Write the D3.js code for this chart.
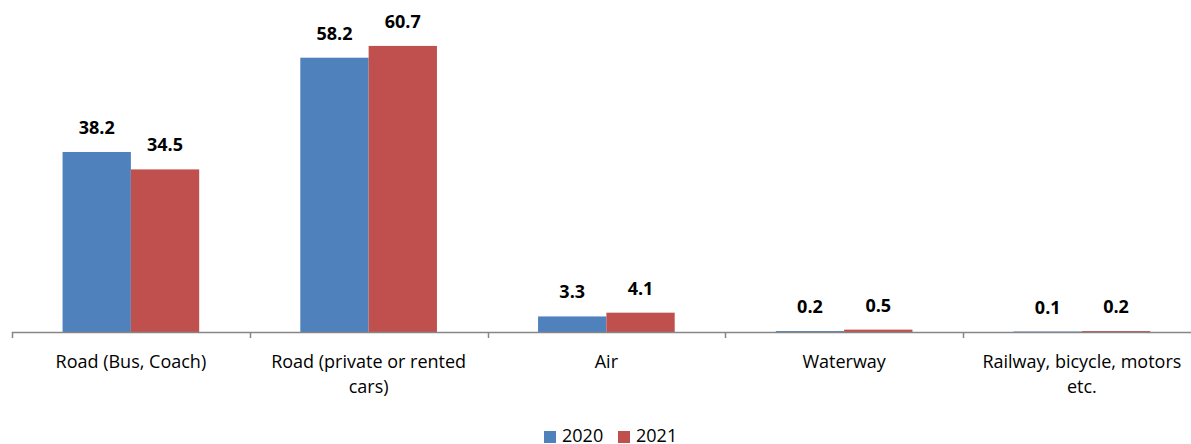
<!DOCTYPE html>
<html>
<head>
<meta charset="utf-8">
<script src="https://cdn.jsdelivr.net/npm/d3@7"></script>
<style>
  body { margin: 0; background: #fff; }
  text { font-family: "Open Sans", Carlito, Calibri, sans-serif; }
</style>
</head>
<body>
<svg id="chart" width="1191" height="444"></svg>
<script>
const categories = [
  ['Road (Bus, Coach)'],
  ['Road (private or rented', 'cars)'],
  ['Air'],
  ['Waterway'],
  ['Railway, bicycle, motors', 'etc.']
];
const years = ['2020', '2021'];
const values2020 = [38.2, 58.2, 3.3, 0.2, 0.1];
const values2021 = [34.5, 60.7, 4.1, 0.5, 0.2];
const colors = ['#4F81BD', '#C0504D'];

const svg = d3.select('#chart');
const baseY = 332;
const left = 12;
const step = 237.75;

// Category band scale
const x = d3.scaleBand()
  .domain(d3.range(categories.length))
  .range([left, left + step * categories.length])
  .paddingInner(0)
  .paddingOuter(0);

const xInner = d3.scaleBand()
  .domain(years)
  .range([0, x.bandwidth()])
  .paddingOuter(0.74)
  .paddingInner(0);

const y = d3.scaleLinear()
  .domain([0, 70])
  .range([baseY, baseY - 70 * 4.713]);

const series = [values2020, values2021];

// Bars
years.forEach((yr, s) => {
  svg.append('g').selectAll('rect')
    .data(series[s])
    .enter()
    .append('rect')
    .attr('x', (d, i) => x(i) + xInner(yr))
    .attr('y', d => y(d))
    .attr('width', xInner.bandwidth())
    .attr('height', d => baseY - y(d))
    .attr('fill', colors[s]);

  svg.append('g').selectAll('text')
    .data(series[s])
    .enter()
    .append('text')
    .attr('x', (d, i) => x(i) + xInner(yr) + xInner.bandwidth() / 2)
    .attr('y', d => y(d) - 18)
    .attr('text-anchor', 'middle')
    .attr('font-size', 18)
    .attr('font-weight', 'bold')
    .attr('fill', '#000')
    .text(d => d.toFixed(1));
});

// Axis line and ticks
const axis = svg.append('g');
axis.append('line')
  .attr('x1', left).attr('x2', left + step * categories.length)
  .attr('y1', baseY + 0.5).attr('y2', baseY + 0.5)
  .attr('stroke', '#868686').attr('stroke-width', 1.5);

axis.selectAll('.tick')
  .data(d3.range(categories.length + 1))
  .enter()
  .append('line')
  .attr('x1', i => Math.round(left + step * i) + 0.5)
  .attr('x2', i => Math.round(left + step * i) + 0.5)
  .attr('y1', baseY)
  .attr('y2', baseY + 6)
  .attr('stroke', '#868686').attr('stroke-width', 1.5);

// Category labels
const labels = axis.selectAll('.cat')
  .data(categories)
  .enter()
  .append('text')
  .attr('text-anchor', 'middle')
  .attr('font-size', 18)
  .attr('fill', '#000');

labels.each(function(lines, i) {
  const t = d3.select(this);
  lines.forEach((ln, j) => {
    t.append('tspan')
      .attr('x', x(i) + x.bandwidth() / 2)
      .attr('y', 368 + j * 25)
      .text(ln);
  });
});

// Legend
const legend = svg.append('g');
const legendX = [544, 618];
years.forEach((yr, s) => {
  legend.append('rect')
    .attr('x', legendX[s]).attr('y', 431)
    .attr('width', 12).attr('height', 12)
    .attr('fill', colors[s]);
  legend.append('text')
    .attr('x', legendX[s] + 18).attr('y', 442)
    .attr('font-size', 18)
    .attr('fill', '#000')
    .text(yr);
});
</script>
</body>
</html>
